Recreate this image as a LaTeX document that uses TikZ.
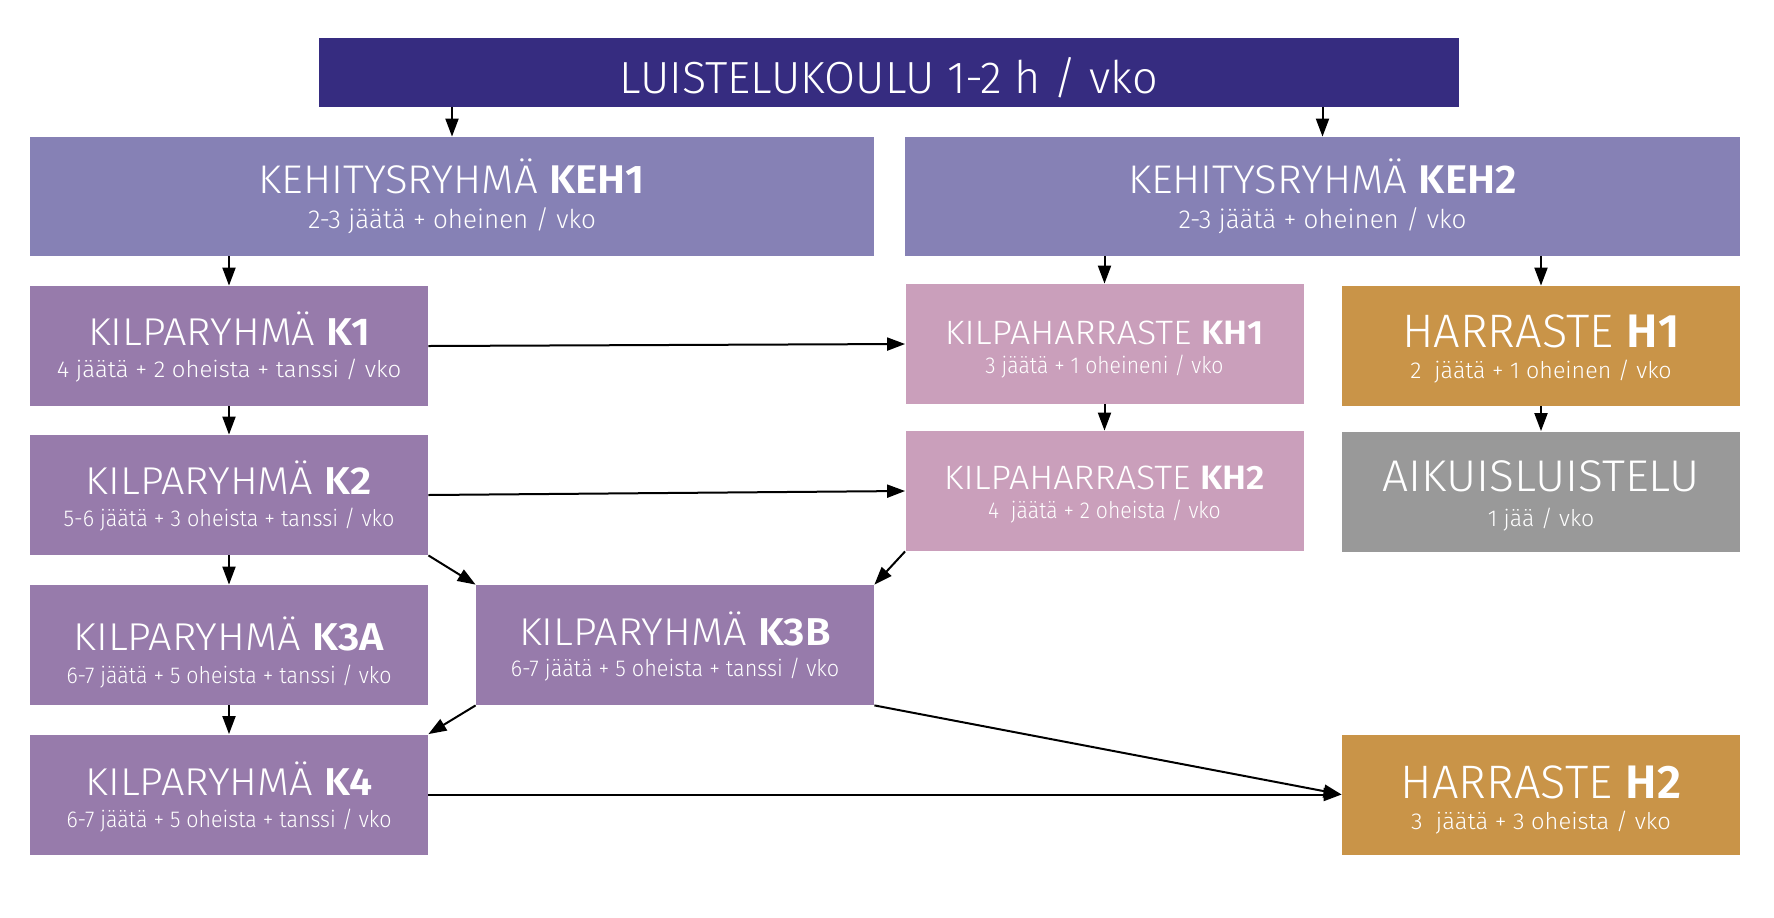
\documentclass[tikz,border=0pt]{standalone}
\usepackage{fontspec}
\setmainfont{Fira Sans}[UprightFont=* Light,BoldFont=* SemiBold]
\usepackage{graphicx}
\usepackage{tikz}
\usetikzlibrary{arrows.meta}
\definecolor{kouluvari}{RGB}{54,44,128}
\definecolor{kehvari}{RGB}{134,129,181}
\definecolor{kilpavari}{RGB}{151,123,171}
\definecolor{khvari}{RGB}{202,159,187}
\definecolor{harrvari}{RGB}{201,148,72}
\definecolor{aikvari}{RGB}{153,153,153}
% #1 = vaakaskaalaus
\newcommand{\leveys}[2]{\scalebox{#1}[1]{#2}}
\newcommand{\alarivi}[2]{\scalebox{#1}[1]{\fontsize{11.5}{14}\selectfont #2}}
\tikzset{
  ryhma/.style={rectangle,inner sep=0pt,text=white,align=center,
    text depth=0pt,minimum width=199pt,minimum height=60pt},
  kehbox/.style={ryhma,fill=kehvari,minimum height=59.5pt,text height=31.5pt,
    font=\fontsize{20}{17.5}\selectfont},
  kbox/.style={ryhma,fill=kilpavari,text height=31.5pt,font=\fontsize{19.4}{16}\selectfont},
  khbox/.style={ryhma,fill=khvari,text height=28pt,font=\fontsize{16.9}{14.5}\selectfont},
  hbox/.style={ryhma,fill=harrvari,text height=32pt,font=\fontsize{23.5}{15.5}\selectfont},
  aikbox/.style={ryhma,fill=aikvari,text height=35pt,font=\fontsize{22.2}{17.5}\selectfont},
  nuoli/.style={line width=1pt,-{Triangle[length=9pt,width=6.5pt]}}
}

\begin{document}
\begin{tikzpicture}[x=0.5pt,y=-0.5pt]
  \useasboundingbox (0,0) rectangle (1774,917);
  \node[ryhma,fill=kouluvari,minimum width=570pt,minimum height=34.5pt,text height=20.5pt,
    font=\fontsize{22.5}{27}\selectfont] (koulu) at (889,72.5) {LUISTELUKOULU 1-2 h / vko};
  \node[kehbox,minimum width=422pt] (keh1) at (452,196.5)
    {\leveys{1.05}{KEHITYSRYHMÄ \textbf{KEH1}}\\{\fontsize{13}{14}\selectfont 2-3 jäätä + oheinen / vko}};
  \node[kehbox,minimum width=417.5pt] (keh2) at (1322.5,196.5)
    {\leveys{1.05}{KEHITYSRYHMÄ \textbf{KEH2}}\\{\fontsize{13}{14}\selectfont 2-3 jäätä + oheinen / vko}};
  \node[kbox] (k1) at (229,346)
    {\leveys{1.07}{KILPARYHMÄ \textbf{K1}}\\\alarivi{1.04}{4 jäätä + 2 oheista + tanssi / vko}};
  \node[kbox] (k2) at (229,495)
    {\leveys{1.07}{KILPARYHMÄ \textbf{K2}}\\\alarivi{0.94}{5-6 jäätä + 3 oheista + tanssi / vko}};
  \node[kbox,text height=38pt,font=\fontsize{19.4}{16.5}\selectfont] (k3a) at (229,645)
    {\leveys{1.07}{KILPARYHMÄ \textbf{K3A}}\\\alarivi{0.93}{6-7 jäätä + 5 oheista + tanssi / vko}};
  \node[kbox,text height=32.5pt] (k4) at (229,794.5)
    {\leveys{1.07}{KILPARYHMÄ \textbf{K4}}\\\alarivi{0.93}{6-7 jäätä + 5 oheista + tanssi / vko}};
  \node[kbox,text height=31.5pt,font=\fontsize{19.4}{15.5}\selectfont] (k3b) at (675,645)
    {\leveys{1.07}{KILPARYHMÄ \textbf{K3B}}\\\alarivi{0.94}{6-7 jäätä + 5 oheista + tanssi / vko}};
  \node[khbox,text height=29pt] (kh1) at (1104.5,344)
    {\leveys{1.06}{KILPAHARRASTE \textbf{KH1}}\\\alarivi{0.92}{3 jäätä + 1 oheineni / vko}};
  \node[khbox,text height=27pt] (kh2) at (1104.5,491)
    {\leveys{1.06}{KILPAHARRASTE \textbf{KH2}}\\\alarivi{0.92}{4~~jäätä + 2 oheista / vko}};
  \node[hbox,text height=32pt] (h1) at (1541,346)
    {HARRASTE \textbf{H1}\\\alarivi{1.01}{2~~jäätä + 1 oheinen / vko}};
  \node[aikbox] (aik) at (1541,491.5)
    {\leveys{1.04}{AIKUISLUISTELU}\\\alarivi{1}{1 jää / vko}};
  \node[hbox,text height=34.5pt] (h2) at (1541,794.5)
    {HARRASTE \textbf{H2}\\\alarivi{1.03}{3~~jäätä + 3 oheista / vko}};
  % nuolet
  \draw[nuoli] (koulu.south -| keh1.north) -- (keh1.north);
  \draw[nuoli] (koulu.south -| keh2.north) -- (keh2.north);
  \draw[nuoli] (keh1.south -| k1.north) -- (k1.north);
  \draw[nuoli] (keh2.south -| kh1.north) -- (kh1.north);
  \draw[nuoli] (keh2.south -| h1.north) -- (h1.north);
  \draw[nuoli] (k1) -- (k2);
  \draw[nuoli] (k2) -- (k3a);
  \draw[nuoli] (k3a) -- (k4);
  \draw[nuoli] (kh1) -- (kh2);
  \draw[nuoli] (h1) -- (aik);
  \draw[nuoli] (k1.east) -- (kh1.west);
  \draw[nuoli] (k2.east) -- (kh2.west);
  \draw[nuoli] (k2.south east) -- (k3b.north west);
  \draw[nuoli] (kh2.south west) -- (k3b.north east);
  \draw[nuoli] (k3b.south west) -- (k4.north east);
  \draw[nuoli] (k3b.south east) -- (h2.west);
  \draw[nuoli] (k4.east) -- (h2.west);
\end{tikzpicture}
\end{document}
